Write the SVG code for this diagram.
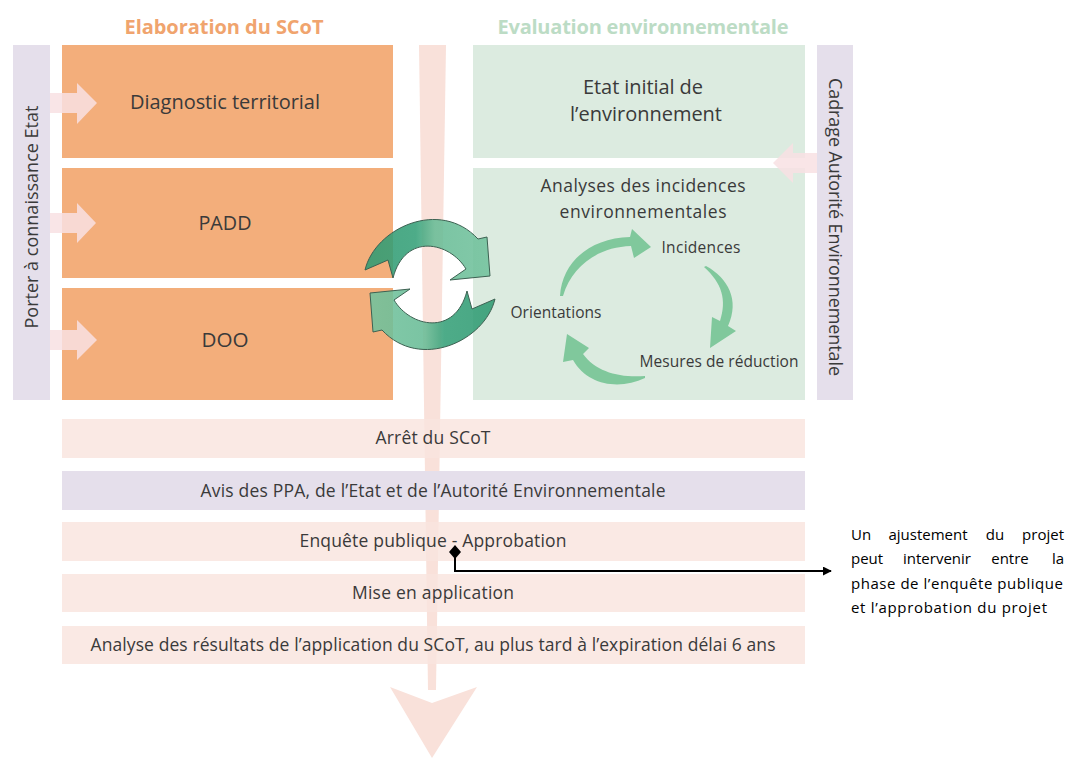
<svg xmlns="http://www.w3.org/2000/svg" width="1068" height="760" viewBox="0 0 1068 760">
<defs>
<style>
.t{font-family:"Open Sans","Liberation Sans",sans-serif;fill:#3a3a3a;text-anchor:middle}
.title{font-family:"Open Sans","Liberation Sans",sans-serif;font-weight:bold;font-size:20px;text-anchor:middle}
.box{font-size:20px}
.row{font-size:17.5px}
.cyc{font-size:15.5px}
.orange{fill:#f3ae7b}
.green{fill:#dcebe0}
.purple{fill:#e5dfeb}
.pinkrow{fill:#f9e4de;fill-opacity:0.82}
.sidearrow{fill:#f8e0e3;fill-opacity:0.85}
.note{font-family:"Open Sans","Liberation Sans",Arial,sans-serif;font-size:15px;fill:#000}
.mid{text-anchor:middle}
.end{text-anchor:end}
.cycarrow{fill:#80c89c}
.bigarrow{fill:url(#gArrow);fill-opacity:0.88;stroke:#3d6152;stroke-width:1;stroke-linejoin:round}
</style>
<linearGradient id="gArrow" x1="365" y1="250" x2="492" y2="250" gradientUnits="userSpaceOnUse">
<stop offset="0" stop-color="#2f9a72"/>
<stop offset="0.4" stop-color="#35a078"/>
<stop offset="0.55" stop-color="#68bc96"/>
<stop offset="1" stop-color="#72c29d"/>
</linearGradient>
<marker id="arrowEnd" viewBox="0 0 10 10" refX="9" refY="5" markerWidth="9" markerHeight="9" markerUnits="userSpaceOnUse" orient="auto">
<path d="M0,0 L10,5 L0,10 Z" fill="#000"/>
</marker>
</defs>
<rect x="0" y="0" width="1068" height="760" fill="#ffffff"/>

<!-- central flow arrow -->
<g id="flow-arrow">
<polygon points="419,45 446,45 436,690 428,690" fill="#f9e1da"/>
<path d="M390,687 L432,703 L477,687 L432,758 Z" fill="#f9e1da"/>
</g>

<!-- titles -->
<text class="title" x="224" y="34" fill="#f0a46e" textLength="199">Elaboration du SCoT</text>
<text class="title" x="643" y="34" fill="#bcdcc5" textLength="291">Evaluation environnementale</text>

<!-- side strips -->
<g id="porter">
<rect x="13" y="45" width="37" height="355" class="purple"/>
<text class="t" font-size="18" transform="translate(38,217) rotate(-90)" textLength="223">Porter à connaissance Etat</text>
</g>
<g id="cadrage">
<rect x="817" y="45" width="36" height="355" class="purple"/>
<text class="t" font-size="18" transform="translate(829,227) rotate(90)" textLength="298">Cadrage Autorité Environnementale</text>
</g>

<!-- orange boxes -->
<g id="diagnostic">
<rect x="62" y="45" width="331" height="113" class="orange"/>
<text class="t box" x="225" y="109" textLength="190">Diagnostic territorial</text>
</g>
<g id="padd">
<rect x="62" y="168" width="331" height="110" class="orange"/>
<text class="t box" x="225" y="230" textLength="53" lengthAdjust="spacingAndGlyphs">PADD</text>
</g>
<g id="doo">
<rect x="62" y="288" width="331" height="112" class="orange"/>
<text class="t box" x="225" y="347" textLength="47" lengthAdjust="spacingAndGlyphs">DOO</text>
</g>

<!-- green boxes -->
<g id="etat-initial">
<rect x="473" y="45" width="332" height="113" class="green"/>
<text class="t box" x="643" y="94" textLength="120">Etat initial de</text>
<text class="t box" x="646" y="121" textLength="152">l’environnement</text>
</g>
<g id="analyses">
<rect x="473" y="168" width="332" height="232" class="green"/>
<text class="t" font-size="17.5" x="643" y="192" textLength="205">Analyses des incidences</text>
<text class="t" font-size="17.5" x="643" y="218" textLength="167">environnementales</text>
<text class="t cyc" x="701" y="253" textLength="79">Incidences</text>
<text class="t cyc" x="556" y="318" textLength="91">Orientations</text>
<text class="t cyc" x="719" y="367" textLength="159">Mesures de réduction</text>
<path class="cycarrow" d="M560,296 C562,262 590,238 630,237 L632,229 L651,247 L634,258 L631,246 C598,247 572,266 563,296 Z"/>
<path class="cycarrow" d="M706,266 C728,278 740,300 728,326 L736,331 L710,348 L712,317 L720,321 C727,300 722,283 704,267 Z"/>
<path class="cycarrow" d="M645,378 C620,390 588,386 573,360 L563,362 L567,334 L589,348 L583,354 C596,372 620,378 645,376 Z"/>
</g>

<!-- side input arrows -->
<g id="side-arrows">
<path class="sidearrow" d="M50,93 L77,93 L77,83 L97,103 L77,124 L77,113 L50,113 Z"/>
<path class="sidearrow" d="M50,213 L77,213 L77,203 L96,223 L77,243 L77,233 L50,233 Z"/>
<path class="sidearrow" d="M50,330 L77,330 L77,320 L97,340 L77,360 L77,350 L50,350 Z"/>
<path class="sidearrow" d="M817,153 L793,153 L793,143 L773,163 L793,183 L793,173 L817,173 Z"/>
</g>

<!-- central cycle arrows -->
<g id="cycle">
<path class="bigarrow" d="M365,270 C375,228 440,198 478,239 L487,237 L490,276 L450,280 L466,269 C450,242 405,232 393,278 L388,260 Z"/>
<path class="bigarrow" transform="rotate(180 430 284.5)" d="M365,270 C375,228 440,198 478,239 L487,237 L490,276 L450,280 L466,269 C450,242 405,232 393,278 L388,260 Z"/>
</g>

<!-- rows -->
<g id="arret">
<rect x="62" y="419" width="743" height="39" class="pinkrow"/>
<text class="t row" x="433" y="444" textLength="115">Arrêt du SCoT</text>
</g>
<g id="avis">
<rect x="62" y="471" width="743" height="39" class="purple"/>
<text class="t row" x="433" y="497" textLength="465">Avis des PPA, de l’Etat et de l’Autorité Environnementale</text>
</g>
<g id="enquete">
<rect x="62" y="522" width="743" height="39" class="pinkrow"/>
<text class="t row" x="433" y="547" textLength="267">Enquête publique - Approbation</text>
</g>
<g id="mise">
<rect x="62" y="574" width="743" height="38" class="pinkrow"/>
<text class="t row" x="433" y="599" textLength="162">Mise en application</text>
</g>
<g id="analyse-resultats">
<rect x="62" y="626" width="743" height="38" class="pinkrow"/>
<text class="t row" x="433" y="651" textLength="685">Analyse des résultats de l’application du SCoT, au plus tard à l’expiration délai 6 ans</text>
</g>

<!-- connector -->
<g id="connectors">
<path d="M455,553 L455,571 L831,571" fill="none" stroke="#000" stroke-width="2" marker-end="url(#arrowEnd)"/>
<path d="M455,545 L461,552 L455,559 L449,552 Z" fill="#000"/>
</g>

<!-- annotation (justified) -->
<g id="note">
<text class="note" x="851" y="540">Un</text>
<text class="note mid" x="928" y="540">ajustement</text>
<text class="note mid" x="995" y="540">du</text>
<text class="note end" x="1064" y="540">projet</text>
<text class="note" x="851" y="564">peut</text>
<text class="note mid" x="937" y="564">intervenir</text>
<text class="note mid" x="1010" y="564">entre</text>
<text class="note end" x="1064" y="564">la</text>
<text class="note" x="851" y="589" textLength="212">phase de l’enquête publique</text>
<text class="note" x="851" y="613" textLength="196">et l’approbation du projet</text>
</g>
</svg>
